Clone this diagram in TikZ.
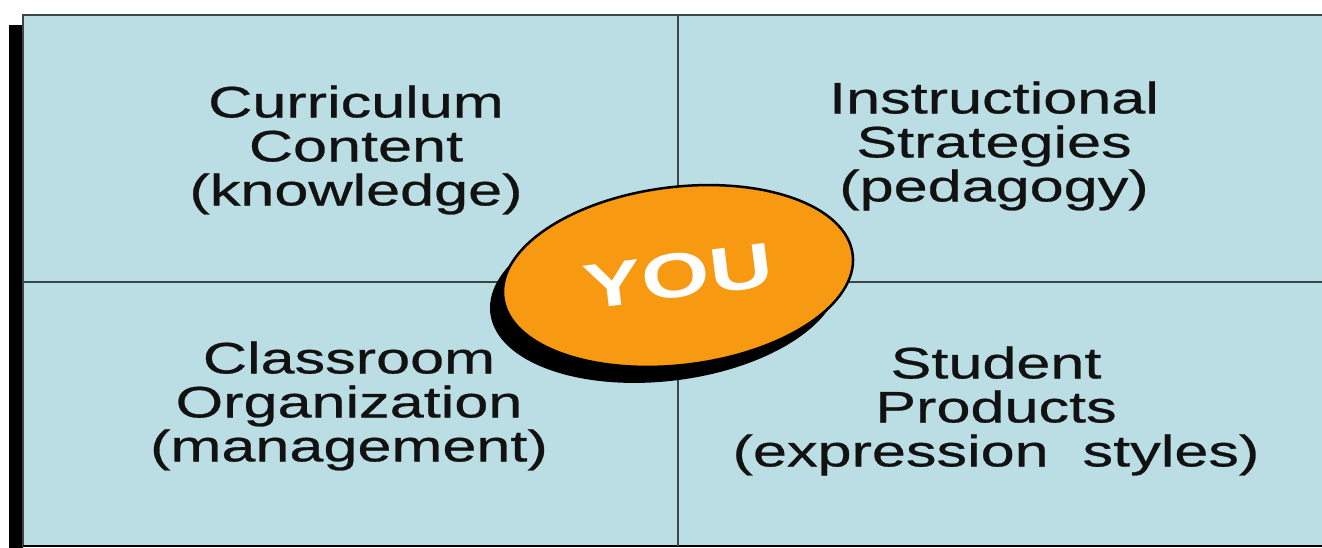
\documentclass[tikz,border=0pt]{standalone}
\usepackage{fontspec}
\usetikzlibrary{shapes.geometric,shadows}
\newfontfamily\labfont[FakeStretch=1.39,FakeBold=0.6]{Liberation Sans}
\newfontfamily\youfont[FakeStretch=1.39]{Liberation Sans Bold}
\definecolor{panelbg}{RGB}{186,222,227}
\definecolor{panelline}{RGB}{60,70,70}
\definecolor{youorange}{RGB}{248,153,18}
\tikzset{
  quadlabel/.style={align=center, inner sep=0pt, text=black!93,
    font=\labfont\fontsize{44}{44}\selectfont},
  youdisc/.style={ellipse, draw=black, line width=2.5pt, fill=youorange,
    minimum width=352pt, minimum height=178pt, inner sep=0pt, text=white,
    font=\youfont\fontsize{63}{63}\selectfont,
    drop shadow={shadow xshift=-13pt, shadow yshift=-16pt, opacity=1, fill=black}},
  divider/.style={draw=panelline, line width=1.5pt}
}
\begin{document}
\begin{tikzpicture}[x=1pt,y=-1pt]
\useasboundingbox (0,0) rectangle (1322,548);
\begin{scope}
\clip (0,0) rectangle (1322,548);
% left shadow strip
\fill[black] (9,25) rectangle (23,548);
% panel
\draw[fill=panelbg, draw=panelline, line width=2pt] (23,15) rectangle (1340,546);
\draw[black, line width=2.5pt] (23,546) -- (1340,546);
% dividers
\coordinate (vtop) at (678,15);
\coordinate (vbot) at (678,546);
\coordinate (hleft) at (23,282);
\coordinate (hright) at (1340,282);
\draw[divider] (vtop) -- (vbot);
\draw[divider] (hleft) -- (hright);
\end{scope}
% quadrant labels
\node[quadlabel] (tl) at (356,150) {Curriculum\\Content\\(knowledge)};
\node[quadlabel] (tr) at (994,146) {Instructional\\Strategies\\(pedagogy)};
\node[quadlabel] (bl) at (349,406) {Classroom\\Organization\\(management)};
\node[quadlabel] (br) at (996,411) {Student\\Products\\(expression\ \ styles)};
% center disc
\node[youdisc, rotate=7] (you) at (678,276) {YOU};
\end{tikzpicture}
\end{document}
